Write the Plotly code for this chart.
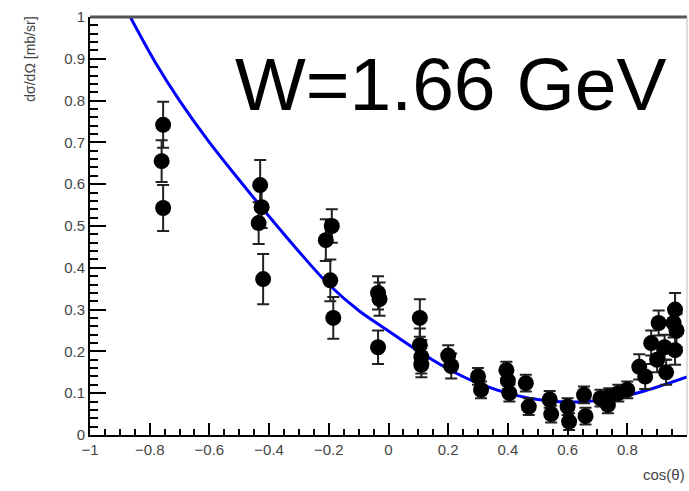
import plotly.graph_objects as go

# Data points: cos(theta), dsigma/dOmega [mb/sr], error
cos_theta = [-0.755, -0.76, -0.755, -0.43, -0.425, -0.435, -0.42,
             -0.21, -0.19, -0.195, -0.185, -0.035, -0.03, -0.035,
             0.105, 0.105, 0.11, 0.11, 0.2, 0.21, 0.3, 0.31,
             0.395, 0.40, 0.405, 0.46, 0.47, 0.54, 0.545, 0.6, 0.605,
             0.655, 0.66, 0.71, 0.735, 0.74, 0.77, 0.80, 0.84, 0.86,
             0.88, 0.90, 0.905, 0.925, 0.93, 0.96, 0.955, 0.965, 0.96]
dsigma = [0.742, 0.655, 0.543, 0.598, 0.545, 0.507, 0.373,
          0.466, 0.50, 0.37, 0.28, 0.34, 0.325, 0.21,
          0.28, 0.215, 0.187, 0.168, 0.19, 0.165, 0.14, 0.108,
          0.155, 0.13, 0.10, 0.124, 0.068, 0.085, 0.05, 0.068, 0.032,
          0.096, 0.045, 0.088, 0.072, 0.092, 0.10, 0.108, 0.163, 0.14,
          0.22, 0.18, 0.268, 0.21, 0.15, 0.30, 0.268, 0.25, 0.203]
err = [0.055, 0.05, 0.055, 0.06, 0.05, 0.05, 0.06,
       0.05, 0.04, 0.05, 0.05, 0.04, 0.04, 0.04,
       0.045, 0.04, 0.04, 0.03, 0.025, 0.03, 0.02, 0.02,
       0.02, 0.02, 0.02, 0.02, 0.02, 0.02, 0.02, 0.02, 0.02,
       0.02, 0.02, 0.02, 0.02, 0.02, 0.02, 0.02, 0.03, 0.03,
       0.03, 0.03, 0.03, 0.03, 0.03, 0.04, 0.035, 0.04, 0.035]

# Model curve
curve_x = [-0.865, -0.78, -0.70, -0.60, -0.50, -0.42, -0.31, -0.20, -0.10, 0.0,
           0.08, 0.20, 0.30, 0.42, 0.53, 0.64, 0.75, 0.86, 1.0]
curve_y = [1.0, 0.89, 0.80, 0.70, 0.61, 0.54, 0.447, 0.36, 0.298, 0.249,
           0.21, 0.158, 0.124, 0.096, 0.082, 0.079, 0.087, 0.106, 0.139]

x_ticks = [-1, -0.8, -0.6, -0.4, -0.2, 0, 0.2, 0.4, 0.6, 0.8, 1]
x_tick_labels = ["\u22121", "\u22120.8", "\u22120.6", "\u22120.4", "\u22120.2", "0",
                 "0.2", "0.4", "0.6", "0.8", "1"]
y_ticks = [0, 0.1, 0.2, 0.3, 0.4, 0.5, 0.6, 0.7, 0.8, 0.9, 1]
y_tick_labels = ["0", "0.1", "0.2", "0.3", "0.4", "0.5", "0.6", "0.7", "0.8", "0.9", "1"]

fig = go.Figure()
fig.add_trace(go.Scatter(
    x=curve_x, y=curve_y, mode="lines",
    line=dict(color="#0000ff", width=3, shape="spline", smoothing=1.0),
    showlegend=False))
fig.add_trace(go.Scatter(
    x=cos_theta, y=dsigma, mode="markers",
    marker=dict(color="black", size=16, symbol="circle"),
    error_y=dict(type="data", array=err, visible=True, color="#222",
                 thickness=2, width=6),
    showlegend=False))

font_family = "Liberation Sans, Arial, Helvetica, sans-serif"
fig.update_layout(
    width=689, height=491,
    margin=dict(l=90, r=2, t=17, b=56),
    paper_bgcolor="white", plot_bgcolor="white",
    font=dict(family=font_family, color="#333"),
    xaxis=dict(range=[-1, 1], tickmode="array", tickvals=x_ticks, ticktext=x_tick_labels,
               ticks="inside", ticklen=12, tickwidth=1.5, tickcolor="black",
               showline=True, linecolor="black", linewidth=2, mirror=False,
               showgrid=False, zeroline=False,
               tickfont=dict(size=15, color="#444"),
               minor=dict(dtick=0.05, tick0=0, ticks="inside", ticklen=6,
                          tickwidth=1.5, tickcolor="black")),
    yaxis=dict(range=[0, 1], tickmode="array", tickvals=y_ticks, ticktext=y_tick_labels,
               ticks="inside", ticklen=16, tickwidth=1.5, tickcolor="black",
               showline=True, linecolor="black", linewidth=2, mirror=False,
               showgrid=False, zeroline=False,
               tickfont=dict(size=15, color="#444"),
               minor=dict(dtick=0.02, tick0=0, ticks="inside", ticklen=8,
                          tickwidth=1.5, tickcolor="black")),
    shapes=[dict(type="line", xref="paper", yref="paper", x0=0, x1=1, y0=1, y1=1,
                 line=dict(color="#555", width=3)),
            dict(type="line", xref="paper", yref="paper", x0=1, x1=1, y0=0, y1=1,
                 line=dict(color="#bbb", width=1))],
    annotations=[
        dict(text="W=1.66 GeV", xref="paper", yref="paper", x=0.968, y=0.84,
             xanchor="right", yanchor="middle", showarrow=False,
             font=dict(size=75, color="black", family=font_family)),
        dict(text="d\u03c3/d\u03a9 [mb/sr]", xref="paper", yref="paper",
             x=-0.1, y=1.005, xanchor="center", yanchor="top", textangle=-90,
             showarrow=False, font=dict(size=14, color="#444")),
        dict(text="cos(\u03b8)", xref="paper", yref="paper", x=1.0, y=-0.07,
             xanchor="right", yanchor="top", showarrow=False,
             font=dict(size=15, color="#444")),
    ],
)

fig.write_html("out.html")
